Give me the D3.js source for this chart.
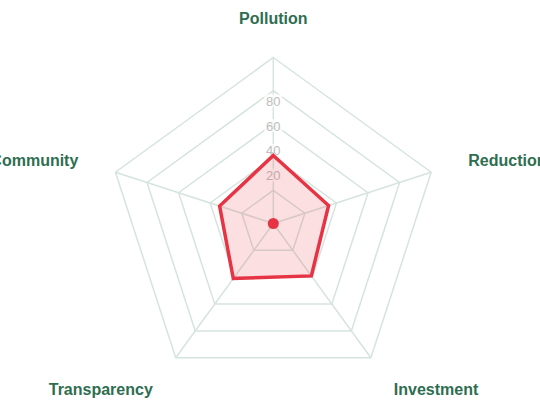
<!DOCTYPE html>
<html>
<head>
<meta charset="utf-8">
<script src="https://cdn.jsdelivr.net/npm/d3@7"></script>
<style>
  html, body { margin: 0; padding: 0; background: #fff; overflow: hidden; }
  svg { display: block; }
</style>
</head>
<body>
<div id="radar"></div>
<script>
// axes (clockwise from top) and values
const axes = ["Pollution", "Reduction", "Investment", "Transparency", "Community"];
const values = [41, 35, 39, 41, 34];
const gridLevels = [20, 40, 60, 80, 100];
const tickLabels = [20, 40, 60, 80];

const width = 540, height = 401;
const cx = 273.3, cy = 223.5, radius = 166;

const svg = d3.select("#radar")
    .append("svg")
    .attr("width", width)
    .attr("height", height);

const g = svg.append("g")
    .attr("transform", "translate(" + cx + "," + cy + ")");

const r = d3.scaleLinear().domain([0, 100]).range([0, radius]);
// tick labels sit on their own offset scale
const rTick = d3.scaleLinear().domain([0, 100]).range([23, 147]);

const angle = d3.scalePoint()
    .domain(axes.concat("_end"))
    .range([0, 2 * Math.PI]);

function pt(a, rad) {
    const t = angle(a) - Math.PI / 2;
    return [rad * Math.cos(t), rad * Math.sin(t)];
}

const gridColor = "#d6e4de";

// grid pentagons
g.selectAll(".grid")
    .data(gridLevels)
    .join("polygon")
    .attr("class", "grid")
    .attr("points", d => axes.map(a => pt(a, r(d)).join(",")).join(" "))
    .attr("fill", "none")
    .attr("stroke", gridColor)
    .attr("stroke-width", 1.5);

// spokes
g.selectAll(".spoke")
    .data(axes)
    .join("line")
    .attr("class", "spoke")
    .attr("x1", 0).attr("y1", 0)
    .attr("x2", d => pt(d, r(100))[0])
    .attr("y2", d => pt(d, r(100))[1])
    .attr("stroke", gridColor)
    .attr("stroke-width", 1.5);

// tick labels with white backdrop
const ticks = g.selectAll(".tick")
    .data(tickLabels)
    .join("g")
    .attr("class", "tick")
    .attr("transform", d => "translate(0," + (-rTick(d)) + ")");
ticks.append("rect")
    .attr("x", -9).attr("y", -7)
    .attr("width", 18).attr("height", 13)
    .attr("fill", "#fff")
    .attr("opacity", 0.75);
ticks.append("text")
    .attr("text-anchor", "middle")
    .attr("dominant-baseline", "central")
    .attr("font-family", "Liberation Sans, Arial, sans-serif")
    .attr("font-size", 13)
    .attr("fill", "#bdbdbd")
    .text(d => d);

// data area
const line = d3.lineRadial()
    .angle((d, i) => angle(axes[i]))
    .radius(d => r(d))
    .curve(d3.curveLinearClosed);

g.append("path")
    .datum(values)
    .attr("d", line)
    .attr("fill", "rgba(230,57,70,0.16)")
    .attr("stroke", "#e63444")
    .attr("stroke-width", 3.5)
    .attr("stroke-linejoin", "miter");

// center dot
g.append("circle")
    .attr("r", 5.5)
    .attr("fill", "#e63444");

// axis labels
const labelR = 205;
g.selectAll(".axis-label")
    .data(axes)
    .join("text")
    .attr("class", "axis-label")
    .attr("x", d => pt(d, labelR)[0])
    .attr("y", d => pt(d, labelR)[1])
    .attr("text-anchor", d => {
        const x = pt(d, labelR)[0];
        return Math.abs(x) < 1 ? "middle" : (x > 0 ? "start" : "end");
    })
    .attr("dominant-baseline", "central")
    .attr("font-family", "Liberation Sans, Arial, sans-serif")
    .attr("font-weight", "bold")
    .attr("font-size", 16)
    .attr("fill", "#2e6e50")
    .text(d => d);
</script>
</body>
</html>
